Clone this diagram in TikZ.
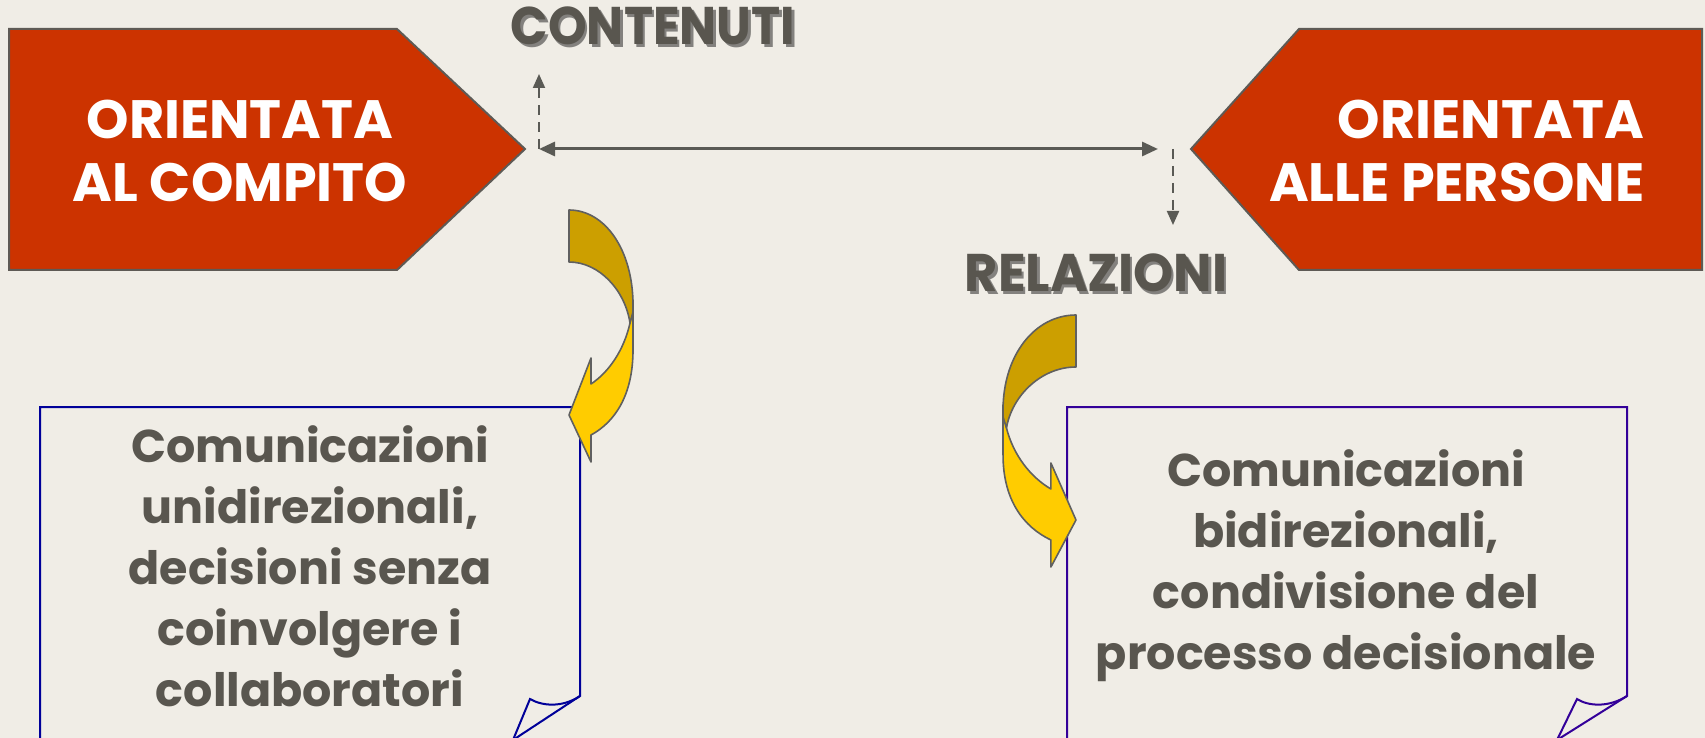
\documentclass[tikz,border=0pt]{standalone}
\usepackage{fontspec}
\setmainfont{Poppins}
\usetikzlibrary{arrows.meta}
\definecolor{bg}{HTML}{F0EDE6}
\definecolor{redbox}{HTML}{CC3300}
\definecolor{boxedge}{HTML}{5E5A55}
\definecolor{txtgray}{HTML}{59564F}
\definecolor{shadowgray}{HTML}{2A2A2A}
\definecolor{arrgray}{HTML}{5A5A55}
\definecolor{darkgold}{HTML}{CC9F00}
\definecolor{lightgold}{HTML}{FFCC00}
\definecolor{arredge}{HTML}{606060}
\definecolor{navyline}{HTML}{000099}
\definecolor{purpline}{HTML}{330099}
\tikzset{
  pent/.style={fill=redbox, draw=boxedge, line width=1pt, line join=miter},
  titletext/.style={text=white, inner sep=0pt, font=\fontsize{27}{31.5}\selectfont\bfseries},
  headtext/.style={inner sep=0pt, font=\fontsize{26.5}{30}\selectfont\bfseries},
  bodytext/.style={text=txtgray, inner sep=0pt, align=center, font=\fontsize{23}{30.5}\selectfont\bfseries},
  solidarr/.style={draw=arrgray, line width=1.5pt, {Triangle[length=8pt,width=7pt]}-{Triangle[length=8pt,width=7pt]}},
  dasharr/.style={draw=arrgray, line width=1pt, dash pattern=on 5pt off 3.5pt, -{Triangle[length=7pt,width=6pt]}},
  goldlight/.style={fill=lightgold, draw=arredge, line width=0.8pt, line join=round},
  golddark/.style={fill=darkgold, draw=arredge, line width=0.8pt, line join=round},
  notebox/.style={line width=1pt, line join=miter},
}
\newcommand{\curvedarrowshape}{%
  \filldraw[goldlight] (64,90) -- (64,140) .. controls (64,185) and (46,212) .. (22,225)
     -- (22,252) -- (0,205) -- (22,148) -- (22,174) .. controls (40,162) and (55,140) .. (61,113) -- cycle;
  \filldraw[golddark] (0,0) .. controls (36,0) and (64,40) .. (64,95) -- (64,102) -- (61,113)
     .. controls (56,80) and (30,52) .. (0,52) -- cycle;
}
\begin{document}
\begin{tikzpicture}[x=0.5pt,y=-0.5pt]
\useasboundingbox (0,0) rectangle (1705,738);
\fill[bg] (0,0) rectangle (1705,738);

% red pentagons
\draw[pent] (9,29) -- (397,29) -- (525,149) -- (397,270) -- (9,270) -- cycle;
\draw[pent] (1702,29) -- (1299,29) -- (1191,149) -- (1299,270) -- (1702,270) -- cycle;
\node[titletext, align=center] (tleft) at (240,151) {ORIENTATA\\AL COMPITO};
\node[titletext, align=right, anchor=east] (tright) at (1645,151) {ORIENTATA\\ALLE PERSONE};

% headings with soft shadow
\node[headtext, text=shadowgray, opacity=0.55] at (655.5,28.5) {\scalebox{0.93}[1]{CONTENUTI}};
\node[headtext, text=txtgray] (cont) at (653,26) {\scalebox{0.93}[1]{CONTENUTI}};
\node[headtext, text=shadowgray, opacity=0.55] at (1098.5,275.5) {\scalebox{0.965}[1]{RELAZIONI}};
\node[headtext, text=txtgray] (rel) at (1096,273) {\scalebox{0.965}[1]{RELAZIONI}};

% arrows
\coordinate (hl) at (539,149);
\coordinate (hr) at (1158,149);
\coordinate (cu) at (539,74);
\coordinate (dl) at (1173,149);
\coordinate (dd) at (1173,225);
\draw[solidarr] (hl) -- (hr);
\draw[dasharr] (hl) -- (cu);
\draw[dasharr] (dl) -- (dd);

% note boxes
\draw[notebox, navyline] (40,745) -- (40,407) -- (580,407) -- (580,696) -- (513,740);
\draw[notebox, navyline] (580,696) .. controls (562,708) and (542,706) .. (530,699) -- (513,740);
\draw[notebox, purpline] (1067,745) -- (1067,407) -- (1627,407) -- (1627,696) -- (1557,740);
\draw[notebox, purpline] (1627,696) .. controls (1608,708) and (1588,706) .. (1577,699) -- (1557,740);

\node[bodytext] (ltext) at (310,566) {Comunicazioni\\unidirezionali,\\decisioni senza\\coinvolgere i\\collaboratori};
\node[bodytext] (rtext) at (1346,566) {Comunicazioni\\bidirezionali,\\condivisione del\\processo decisionale};

% curved arrows
\begin{scope}[shift={(569,210)}]
  \curvedarrowshape
\end{scope}
\begin{scope}[shift={(1076,315)}, xscale=-1.14]
  \curvedarrowshape
\end{scope}
\end{tikzpicture}
\end{document}
